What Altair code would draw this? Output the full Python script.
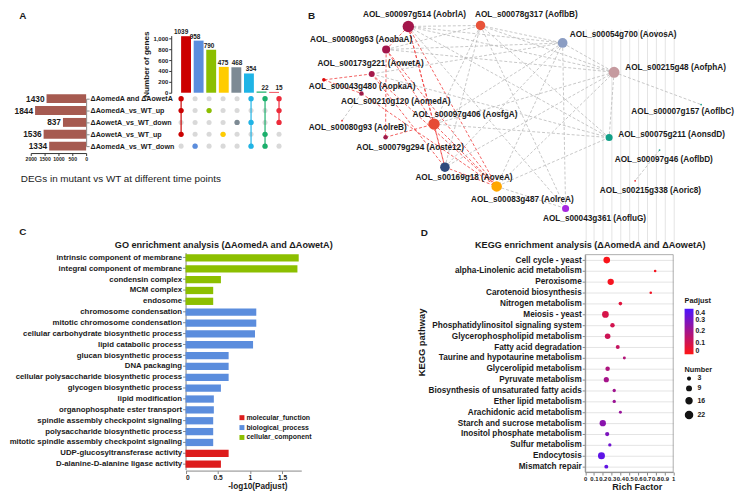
import altair as alt
import pandas as pd

FONT = "Liberation Sans"
W, H = 738, 485
OX, OY = 8, 8


def px(*v):
    return [a - OX for a in v]


def py(*v):
    return [a - OY for a in v]


TXT = "#1a1a1a"

# ---------------------------------------------------------------- Panel A data
set_names = ["ΔAomedA and ΔAowetA", "ΔAomedA_vs_WT_up", "ΔAowetA_vs_WT_down",
             "ΔAowetA_vs_WT_up", "ΔAomedA_vs_WT_down"]
set_sizes = [1430, 1844, 837, 1536, 1334]
inter_ids = [1, 2, 3, 4, 5, 6, 7, 8]
inter_counts = [1039, 958, 790, 475, 468, 354, 22, 15]
inter_members = [[0, 1, 3], [4], [1], [3], [2], [0, 2, 4], [0, 3, 4], [0, 1, 2]]
inter_colors = ["#cc0000", "#5b8ddd", "#8cbf00", "#ffcc00", "#7d8a94",
                "#1fb4e6", "#1bb06c", "#ee2a3a"]

# ---------------------------------------------------------------- Panel B data
node_ids = ["AobrlA", "AoflbB", "AovosA", "AofphA", "AoflbC", "AonsdD", "AoflbD",
            "Aoric8", "AofluG", "AolreA", "AoveA", "AosfgA", "Aoste12", "AolreB",
            "AomedA", "AopkaA", "AowetA", "AoabaA"]
node_labels = ["AOL_s00097g514 (AobrlA)", "AOL_s00078g317 (AoflbB)", "AOL_s00054g700 (AovosA)",
               "AOL_s00215g48 (AofphA)", "AOL_s00007g157 (AoflbC)", "AOL_s00075g211 (AonsdD)",
               "AOL_s00097g46 (AoflbD)", "AOL_s00215g338 (Aoric8)", "AOL_s00043g361 (AofluG)",
               "AOL_s00083g487 (AolreA)", "AOL_s00169g18 (AoveA)", "AOL_s00097g406 (AosfgA)",
               "AOL_s00079g294 (Aoste12)", "AOL_s00080g93 (AolreB)", "AOL_s00210g120 (AomedA)",
               "AOL_s00043g480 (AopkaA)", "AOL_s00173g221 (AowetA)", "AOL_s00080g63 (AoabaA)"]
# layout coordinates of the network (units = reference pixels)
node_x = [412.7, 485.7, 568.7, 620.7, 708.7, 615.7, 666.7, 642.0, 571.7, 502.0,
          449.7, 438.7, 389.7, 345.7, 365.3, 327.3, 375.7, 390.3]
node_y = [24.0, 23.0, 40.7, 70.3, 103.0, 136.3, 149.0, 180.0, 208.0, 185.7,
          166.3, 122.7, 136.0, 119.3, 91.7, 78.0, 72.0, 47.3]
node_score = [13, 9, 9.5, 12, 0.3, 5, 0.3, 0.3, 5, 11, 9, 13, 2, 0.3, 2, 1.3, 3.5, 6.5]
node_colors = ["#a3164b", "#e8533a", "#8b9dc3", "#c59a9f", "#1a9e8a", "#12a088", "#1a9e8a",
               "#ee1c1c", "#a827e0", "#ffa600", "#2f4a7d", "#e64b35", "#a01c4c", "#ee2222",
               "#9e1c4a", "#dd0a0a", "#a5184a", "#a3164b"]
label_x = [419, 532, 576, 632, 690, 625, 671, 657.5, 601, 528, 469, 470, 414.5, 361.5,
           400, 366, 374.5, 365]
label_y = [12.5, 12.5, 32.7, 66, 110, 134, 159, 190, 219, 199, 177.7, 113.3, 146.7, 127,
           100, 85, 62, 37.3]
label_left = [False, False, True, True, False, True, False, False, False, False, False,
              False, False, False, False, False, False, False]

edge_src = ["AobrlA", "AobrlA", "AobrlA", "AobrlA", "AoabaA", "AoabaA", "AoabaA", "AowetA",
            "AowetA", "AowetA", "AopkaA", "AomedA", "Aoste12", "AosfgA", "AosfgA", "AoveA",
            "AobrlA", "AobrlA", "AobrlA", "AobrlA", "AoabaA", "AoabaA", "AoabaA", "AoflbB",
            "AoflbB", "AoflbB", "AoflbB", "AoflbB", "AoflbB", "AovosA", "AovosA", "AovosA",
            "AovosA", "AovosA", "AofphA", "AofphA", "AofphA", "AofphA", "AofphA", "AonsdD",
            "AonsdD", "AolreA", "AomedA", "AoflbD", "AowetA", "AobrlA", "AowetA"]
edge_dst = ["AosfgA", "AoveA", "AolreA", "AoabaA", "Aoste12", "AolreA", "AosfgA", "AopkaA",
            "AoveA", "AolreA", "AomedA", "AolreA", "AosfgA", "AoveA", "AolreA", "AolreA",
            "AoflbB", "AovosA", "AofphA", "AonsdD", "AoflbB", "AovosA", "AofphA", "AovosA",
            "AofphA", "AosfgA", "AoveA", "AonsdD", "AofluG", "AofphA", "AosfgA", "AoveA",
            "AolreA", "AofluG", "AosfgA", "AoveA", "AolreA", "AonsdD", "AoflbC", "AolreA",
            "AosfgA", "AofluG", "AolreB", "Aoric8", "AonsdD", "AofluG", "AovosA"]
edge_kind = ["red"] * 16 + ["grey"] * 31

# ---------------------------------------------------------------- Panel C data
go_terms = ["intrinsic component of membrane", "integral component of membrane",
            "condensin complex", "MCM complex", "endosome", "chromosome condensation",
            "mitotic chromosome condensation", "cellular carbohydrate biosynthetic process",
            "lipid catabolic process", "glucan biosynthetic process", "DNA packaging",
            "cellular polysaccharide biosynthetic process", "glycogen biosynthetic process",
            "lipid modification", "organophosphate ester transport",
            "spindle assembly checkpoint signaling", "polysaccharide biosynthetic process",
            "mitotic spindle assembly checkpoint signaling", "UDP-glucosyltransferase activity",
            "D-alanine-D-alanine ligase activity"]
go_values = [1.76, 1.74, 0.55, 0.43, 0.43, 1.10, 1.10, 1.08, 1.05, 0.67, 0.67, 0.67, 0.55,
             0.44, 0.44, 0.43, 0.43, 0.43, 0.67, 0.55]
go_class = ["cellular_component"] * 5 + ["biological_process"] * 13 + ["molecular_function"] * 2
go_class_order = ["molecular_function", "biological_process", "cellular_component"]
go_class_colors = ["#dd1c1c", "#5b8ddd", "#8cbf00"]

# ---------------------------------------------------------------- Panel D data
kegg_terms = ["Cell cycle - yeast", "alpha-Linolenic acid metabolism", "Peroxisome",
              "Carotenoid biosynthesis", "Nitrogen metabolism", "Meiosis - yeast",
              "Phosphatidylinositol signaling system", "Glycerophospholipid metabolism",
              "Fatty acid degradation", "Taurine and hypotaurine metabolism",
              "Glycerolipid metabolism", "Pyruvate metabolism",
              "Biosynthesis of unsaturated fatty acids", "Ether lipid metabolism",
              "Arachidonic acid metabolism", "Starch and sucrose metabolism",
              "Inositol phosphate metabolism", "Sulfur metabolism", "Endocytosis",
              "Mismatch repair"]
kegg_rich = [0.245, 0.795, 0.29, 0.745, 0.40, 0.23, 0.31, 0.255, 0.37, 0.445, 0.255, 0.24,
             0.33, 0.33, 0.40, 0.20, 0.25, 0.28, 0.185, 0.24]
kegg_number = [20, 3, 18, 3, 6, 20, 9, 14, 7, 4, 9, 12, 5, 5, 4, 18, 8, 5, 22, 7]
kegg_padj = [0.01, 0.02, 0.02, 0.03, 0.07, 0.09, 0.10, 0.11, 0.13, 0.17, 0.18, 0.20, 0.21,
             0.22, 0.23, 0.26, 0.29, 0.32, 0.36, 0.35]

# ================================================================ build tables
dfA_top = pd.DataFrame({"col": inter_ids, "count": inter_counts, "color": inter_colors})
grid_rows, dot_rows, line_rows = [], [], []
for cid, mem, colr in zip(inter_ids, inter_members, inter_colors):
    for r in range(len(set_names)):
        grid_rows.append({"col": cid, "row": r})
    for r in mem:
        dot_rows.append({"col": cid, "row": r, "color": colr})
    if len(mem) > 1:
        line_rows.append({"col": cid, "lo": min(mem), "hi": max(mem), "color": colr})
dfA_grid = pd.DataFrame(grid_rows)
dfA_dots = pd.DataFrame(dot_rows)
dfA_lines = pd.DataFrame(line_rows)
dfA_sets = pd.DataFrame({"set": set_names, "size": set_sizes})

nodes = pd.DataFrame({"id": node_ids, "label": node_labels, "x": node_x, "y": node_y,
                      "score": node_score, "color": node_colors, "lx": label_x,
                      "ly": label_y, "left": label_left})
pos = {i: (x, y) for i, x, y in zip(node_ids, node_x, node_y)}
edges = pd.DataFrame({
    "x": [pos[s][0] for s in edge_src], "y": [pos[s][1] for s in edge_src],
    "x2": [pos[d][0] for d in edge_dst], "y2": [pos[d][1] for d in edge_dst],
    "kind": edge_kind,
})

dfC = pd.DataFrame({"term": go_terms, "value": go_values, "cls": go_class})
dfD = pd.DataFrame({"term": kegg_terms, "rich": kegg_rich, "number": kegg_number,
                    "padj": kegg_padj})

# ================================================================ Panel A
xA = alt.Scale(domain=[1, 8], range=px(183, 282))
yTop = alt.Scale(domain=[0, 1050], range=py(91, 33.25))
yRow = alt.Scale(domain=[0, 4], range=py(97, 145))

a_bars = alt.Chart(dfA_top).mark_bar(size=10, orient="vertical").encode(
    x=alt.X("col:Q", scale=xA, axis=None),
    y=alt.Y("count:Q", scale=yTop,
            axis=alt.Axis(orient="left", offset=-(173 - OX), values=[0, 200, 400, 600, 800, 1000],
                          title="Number of genes", titleFontSize=8.2, titleFontWeight="bold",
                          labelFontSize=6, labelFontWeight="bold", tickSize=2.5, labelPadding=1,
                          titlePadding=2, grid=False, domainColor="#333", tickColor="#333")),
    color=alt.Color("color:N", scale=None),
)
a_bar_text = alt.Chart(dfA_top).mark_text(baseline="bottom", dy=-1, fontSize=6.5,
                                          fontWeight="bold", font=FONT, color=TXT).encode(
    x=alt.X("col:Q", scale=xA, axis=None),
    y=alt.Y("count:Q", scale=yTop, axis=None),
    text="count:Q",
)
a_grid = alt.Chart(dfA_grid).mark_circle(size=26, color="#d9d9d9", opacity=1).encode(
    x=alt.X("col:Q", scale=xA, axis=None),
    y=alt.Y("row:Q", scale=yRow, axis=None),
)
a_lines = alt.Chart(dfA_lines).mark_rule(strokeWidth=1.2).encode(
    x=alt.X("col:Q", scale=xA, axis=None),
    y=alt.Y("lo:Q", scale=yRow, axis=None),
    y2="hi:Q",
    color=alt.Color("color:N", scale=None),
)
a_dots = alt.Chart(dfA_dots).mark_circle(size=28, opacity=1).encode(
    x=alt.X("col:Q", scale=xA, axis=None),
    y=alt.Y("row:Q", scale=yRow, axis=None),
    color=alt.Color("color:N", scale=None),
)
xSet = alt.Scale(domain=[0, 2000], range=px(87, 31))
ySet = alt.Scale(type="point", domain=set_names, range=py(97, 145), padding=0)
a_left = alt.Chart(dfA_sets).mark_bar(size=9, orient="horizontal", color="#a65a50").encode(
    x=alt.X("size:Q", scale=xSet,
            axis=alt.Axis(orient="bottom", offset=(152 - OY) - H, values=[0, 500, 1000, 1500, 2000],
                          format="d", labelOverlap=False, labelFlush=False, labelFontSize=5.2,
                          labelFontWeight="bold", tickSize=2.5, labelPadding=1, title=None,
                          grid=False, domainColor="#333", tickColor="#333")),
    y=alt.Y("set:N", scale=ySet, sort=None,
            axis=alt.Axis(orient="right", offset=(87 - OX) - W, title=None, labelFontSize=7.2,
                          labelFontWeight="bold", tickSize=3, labelPadding=1, labelLimit=0,
                          domainColor="#888", tickColor="#888")),
)
a_left_text = alt.Chart(dfA_sets).mark_text(align="right", dx=-2, fontSize=8.4,
                                            fontWeight="bold", font=FONT, color=TXT).encode(
    x=alt.X("size:Q", scale=xSet, axis=None),
    y=alt.Y("set:N", scale=ySet, sort=None, axis=None),
    text="size:Q",
)

# ================================================================ Panel B
xB = alt.Scale(domain=[0, 746], range=px(0, 746))
yB = alt.Scale(domain=[0, 501], range=py(0, 501))
b_edges = alt.Chart(edges).mark_rule(strokeWidth=0.8, strokeDash=[3, 2]).encode(
    x=alt.X("x:Q", scale=xB, axis=None),
    y=alt.Y("y:Q", scale=yB, axis=None),
    x2="x2:Q", y2="y2:Q",
    color=alt.Color("kind:N", scale=alt.Scale(domain=["grey", "red"], range=["#b9b9b9", "#f03a3a"]),
                    legend=None),
)
b_nodes = alt.Chart(nodes).mark_circle(opacity=1).encode(
    x=alt.X("x:Q", scale=xB, axis=None),
    y=alt.Y("y:Q", scale=yB, axis=None),
    size=alt.Size("score:Q", scale=alt.Scale(domain=[0, 13], range=[0, 133], zero=True), legend=None),
    color=alt.Color("color:N", scale=None),
)
b_lab_c = alt.Chart(nodes).transform_filter("!datum.left").mark_text(
    align="center", baseline="middle", fontSize=8.3, fontWeight="bold", font=FONT, color=TXT).encode(
    x=alt.X("lx:Q", scale=xB, axis=None),
    y=alt.Y("ly:Q", scale=yB, axis=None),
    text="label:N",
)
b_lab_l = alt.Chart(nodes).transform_filter("datum.left").mark_text(
    align="left", baseline="middle", fontSize=8.3, fontWeight="bold", font=FONT, color=TXT).encode(
    x=alt.X("lx:Q", scale=xB, axis=None),
    y=alt.Y("ly:Q", scale=yB, axis=None),
    text="label:N",
)

# ================================================================ Panel C
yC = alt.Scale(domain=go_terms, range=py(252.5, 472), paddingInner=0.33, paddingOuter=0.165)
xC = alt.Scale(domain=[0, 1.8], range=px(187.5, 304.5))
c_bars = alt.Chart(dfC).mark_bar().encode(
    y=alt.Y("term:N", scale=yC, sort=None,
            axis=alt.Axis(orient="left", offset=-(187.5 - OX), title=None, labelFontSize=7.9,
                          labelFontWeight="bold", labelLimit=0, tickSize=3, labelPadding=1,
                          domainColor="#888", tickColor="#888", grid=False)),
    x=alt.X("value:Q", scale=xC,
            axis=alt.Axis(orient="bottom", offset=(473 - OY) - H, values=[0, 0.5, 1, 1.5],
                          format="~g", labelFontSize=6.7, labelFontWeight="bold", tickSize=3,
                          labelPadding=1, domainColor="#888", tickColor="#888", grid=False,
                          title="-log10(Padjust)", titleFontSize=8.3, titleFontWeight="bold",
                          titleX=260 - OX, titleY=(489 - OY) - (473 - OY),
                          titleBaseline="middle")),
    color=alt.Color("cls:N", scale=alt.Scale(domain=go_class_order, range=go_class_colors),
                    legend=alt.Legend(orient="none", legendX=241 - OX, legendY=416 - OY, title=None,
                                      symbolType="square", symbolSize=25, labelFontSize=7,
                                      labelFontWeight="bold", rowPadding=2, labelOffset=1,
                                      symbolStrokeWidth=0)),
)

# ================================================================ Panel D
yD = alt.Scale(domain=kegg_terms, range=py(254.7, 474.5), paddingInner=0, paddingOuter=0)
xD = alt.Scale(domain=[0, 1], range=px(591.5, 680.5))
d_frame = alt.Chart(pd.DataFrame({"a": [0], "b": [1]})).mark_rect(
    fill="transparent", stroke="#9a9a9a", strokeWidth=0.8).encode(
    x=alt.X("a:Q", scale=xD, axis=None), x2="b:Q",
    y=alt.Y("a:Q", scale=alt.Scale(domain=[0, 1], range=py(474.5, 254.7)), axis=None), y2="b:Q",
)
d_pts = alt.Chart(dfD).mark_circle(opacity=0.92).encode(
    y=alt.Y("term:N", scale=yD, sort=None,
            axis=alt.Axis(orient="left", offset=-(591.5 - OX), labelFontSize=8.3,
                          labelFontWeight="bold", labelLimit=0, tickSize=3, labelPadding=1,
                          domainColor="#888", tickColor="#888", grid=True, gridColor="#e4e4e4",
                          title="KEGG pathway", titleFontSize=9.5, titleFontWeight="bold",
                          titleX=(426 - OX) - (591.5 - OX), titleY=343 - OY, titleAngle=270,
                          titleAlign="center", titleBaseline="middle")),
    x=alt.X("rich:Q", scale=xD,
            axis=alt.Axis(orient="bottom", offset=(474.5 - OY) - H,
                          values=[0, 0.1, 0.2, 0.3, 0.4, 0.5, 0.6, 0.7, 0.8, 0.9, 1],
                          format="~g", labelFontSize=6, labelFontWeight="bold", labelOverlap=False,
                          labelFlush=False, tickSize=3, labelPadding=1, domainColor="#888",
                          tickColor="#888", grid=True, gridColor="#e4e4e4",
                          title="Rich Factor", titleFontSize=9.2, titleFontWeight="bold",
                          titleX=643.7 - OX, titleY=(489 - OY) - (474.5 - OY),
                          titleBaseline="middle")),
    size=alt.Size("number:Q", scale=alt.Scale(domain=[0, 22], range=[0, 50], zero=True),
                  legend=alt.Legend(orient="none", legendX=684, legendY=359, title="Number",
                                    values=[3, 9, 16, 22], titleFontSize=7.4, titleFontWeight="bold",
                                    labelFontSize=7, labelFontWeight="bold", symbolFillColor="black",
                                    symbolStrokeColor="black", symbolType="circle", rowPadding=0,
                                    titlePadding=2)),
    color=alt.Color("padj:Q", scale=alt.Scale(domain=[0, 0.4], range=["#ff0000", "#3c00ff"],
                                               interpolate="rgb"),
                    legend=alt.Legend(orient="none", legendX=684, legendY=290, title="Padjust",
                                      values=[0, 0.1, 0.2, 0.3, 0.4], format="~g",
                                      gradientLength=46, gradientThickness=9, direction="vertical",
                                      titleFontSize=7.4, titleFontWeight="bold", labelFontSize=7,
                                      labelFontWeight="bold", titlePadding=4, labelOverlap=False)),
)

# ================================================================ annotations
def note(text, x, y, size, weight="bold", align="center"):
    return alt.Chart(pd.DataFrame({"t": [text]})).mark_text(
        align=align, baseline="middle", fontSize=size, fontWeight=weight, font=FONT, color=TXT
    ).encode(x=alt.value(x - OX), y=alt.value(y - OY), text="t:N")


notes = [
    note("A", 23, 13.5, 10),
    note("B", 315, 13.5, 10),
    note("C", 23, 232, 10),
    note("D", 429, 233, 10),
    note("DEGs in mutant vs WT at different time points", 21, 178, 10, weight="normal", align="left"),
    note("GO enrichment analysis (ΔAomedA and ΔAowetA)", 116, 244.7, 9.2, align="left"),
    note("KEGG enrichment analysis (ΔAomedA and ΔAowetA)", 596.7, 244.7, 9.2),
]

layers = [b_edges, b_nodes, b_lab_c, b_lab_l,
          a_bars, a_bar_text, a_left, a_left_text, a_grid, a_lines, a_dots,
          c_bars, d_frame, d_pts] + notes

chart = alt.layer(*layers).resolve_scale(
    x="independent", y="independent", color="independent", size="independent"
).properties(
    width=W, height=H, autosize=alt.AutoSizeParams(type="none"), padding=0, background="white"
).configure_view(strokeOpacity=0).configure_axis(
    labelFont=FONT, titleFont=FONT, labelColor=TXT, titleColor=TXT
).configure_legend(
    labelFont=FONT, titleFont=FONT, labelColor=TXT, titleColor=TXT
)

chart.save("out.html", embed_options={"renderer": "svg", "actions": False})
